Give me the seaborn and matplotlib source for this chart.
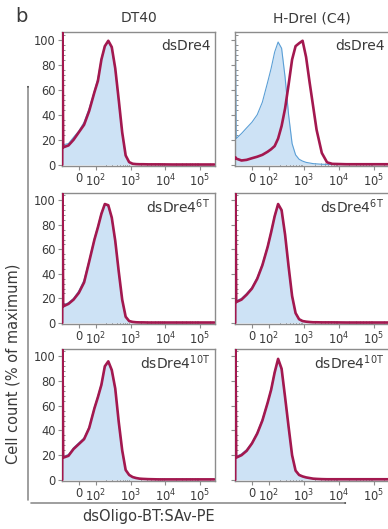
import numpy as np
import pandas as pd
import matplotlib
matplotlib.use("Agg")
import matplotlib.pyplot as plt
import seaborn as sns
from matplotlib.ticker import FixedLocator, FixedFormatter, NullFormatter

# ---------------- data ----------------
# fluorescence bin positions (dsOligo-BT:SAv-PE intensity)
x_bins = [-98, -96, -92, -61, -31, 0, 31, 61, 92, 115, 145, 182, 229, 288, 363,
          457, 575, 724, 912, 1148, 1445, 1820, 2291, 3236, 4571, 6457, 16218,
          51286, 257040]

cell_lines = ["DT40", "H-DreI (C4)"]
probes = ["dsDre4", "dsDre4$^{\\mathregular{6T}}$", "dsDre4$^{\\mathregular{10T}}$"]

# control (filled, blue) histograms, % of maximum
ctrl_dt40_dre4 = [0, 108, 16, 17, 22, 27, 34, 45, 59, 69, 85, 95, 98, 93, 76, 50, 25,
                  7, 2, 0.8, 0.5, 0.4, 0.4, 0.3, 0.3, 0.3, 0.2, 0.2, 0.2]
ctrl_hdrei_dre4 = [0, 100, 21, 25, 29.5, 34, 40, 50, 66, 77, 90, 98, 93, 70, 40, 17,
                   8, 4.5, 3, 2, 1.5, 1, 0.8, 0.5, 0.4, 0.3, 0.3, 0.3, 0.3]
ctrl_dt40_6t = [0, 108, 14.5, 16.5, 20, 26, 35, 51, 69, 79, 90, 97, 95, 85, 66, 41,
                18, 5, 1.5, 0.8, 0.5, 0.4, 0.4, 0.3, 0.3, 0.3, 0.3, 0.3, 0.3]
ctrl_hdrei_6t = [0, 108, 18, 20, 24, 29, 37, 48, 63, 75, 88, 97, 91, 71, 45, 21, 8,
                 3, 1.5, 1, 0.7, 0.5, 0.5, 0.4, 0.4, 0.4, 0.3, 0.3, 0.3]
ctrl_dt40_10t = [0, 108, 19, 20.5, 26, 30, 34, 43, 59, 68, 78, 92, 95, 88, 73, 46,
                 23, 8, 4, 2.3, 1.5, 1, 0.8, 0.6, 0.5, 0.4, 0.4, 0.4, 0.4]
ctrl_hdrei_10t = [0, 108, 19, 21, 24.5, 30, 38.5, 49, 63, 74, 88, 97, 89, 66, 42, 20,
                  7.5, 4, 2.8, 2, 1.5, 1, 0.8, 0.6, 0.5, 0.5, 0.5, 0.5, 0.5]

# stained (red line) histograms, % of maximum
oligo_dt40_dre4 = [0, 108, 14, 15.5, 20, 26, 32, 43, 58, 67, 84, 94.7, 99, 94, 77, 52,
                   26, 7.5, 2.2, 0.9, 0.6, 0.5, 0.5, 0.4, 0.4, 0.4, 0.3, 0.3, 0.3]
oligo_hdrei_dre4 = [5, 6, 5, 3.5, 4, 5.3, 6.5, 8, 10.5, 12.5, 15, 21, 31, 45, 64, 84,
                    94.7, 97, 99, 86, 66, 47, 28, 9.5, 2, 0.8, 0.5, 0.5, 0.5]
oligo_dt40_6t = [0, 108, 13.5, 15.5, 19, 24.5, 33, 50, 68, 78, 89, 97, 96, 86, 67, 42,
                 19, 5, 1.5, 0.8, 0.5, 0.4, 0.4, 0.3, 0.3, 0.3, 0.3, 0.3, 0.3]
oligo_hdrei_6t = [0, 108, 17, 19, 23, 28, 36, 47, 62, 74, 87, 97, 92, 72, 46, 22, 8,
                  3, 1.5, 1, 0.7, 0.5, 0.5, 0.4, 0.4, 0.4, 0.3, 0.3, 0.3]
oligo_dt40_10t = [0, 108, 18, 19.5, 25, 29, 33, 42, 58, 67, 77, 92, 96, 89, 74, 47,
                  24, 8, 4, 2.3, 1.5, 1, 0.8, 0.6, 0.5, 0.4, 0.4, 0.4, 0.4]
oligo_hdrei_10t = [0, 108, 18, 20, 23.5, 29.5, 37.5, 48, 62.5, 73, 87, 98, 90, 67, 43,
                   20, 7.5, 4, 2.8, 2, 1.5, 1, 0.8, 0.6, 0.5, 0.5, 0.5, 0.5, 0.5]

x_tick_values = [0, 100, 1000, 10000, 100000]
x_tick_labels = ["0", "$10^2$", "$10^3$", "$10^4$", "$10^5$"]
y_tick_values = [0, 20, 40, 60, 80, 100]

ctrl = [[ctrl_dt40_dre4, ctrl_hdrei_dre4],
        [ctrl_dt40_6t, ctrl_hdrei_6t],
        [ctrl_dt40_10t, ctrl_hdrei_10t]]
oligo = [[oligo_dt40_dre4, oligo_hdrei_dre4],
         [oligo_dt40_6t, oligo_hdrei_6t],
         [oligo_dt40_10t, oligo_hdrei_10t]]

# ---------------- styling ----------------
sns.set_theme(style="white")
plt.rcParams["font.family"] = ["DejaVu Sans"]
plt.rcParams["mathtext.fontset"] = "dejavusans"

RED = "#a3184f"
BLUE_LINE = "#5b9fd6"
BLUE_FILL = "#cde2f5"
SPINE = "#8c8c8c"
TXT = "#3a3a3a"

W, H = 388, 529
fig = plt.figure(figsize=(W / 100, H / 100), dpi=100)
fig.patch.set_facecolor("white")


def add_ax(left, top, right, bottom):
    return fig.add_axes([left / W, 1 - bottom / H, (right - left) / W, (bottom - top) / H])


cols = [(62, 215), (235, 389)]
rows = [(32, 165.5), (193, 323.5), (349, 480.5)]

minor_x = [m * 10 ** k for k in (2, 3, 4) for m in range(2, 10)] + [200000]
minor_y = [v for v in range(0, 105, 4) if v % 20 != 0]

for r, (top, bottom) in enumerate(rows):
    for c, (left, right) in enumerate(cols):
        ax = add_ax(left, top, right, bottom)
        df = pd.DataFrame({"x": x_bins, "ctrl": ctrl[r][c], "oligo": oligo[r][c]})
        ax.set_xscale("symlog", linthresh=100, linscale=0.44)
        ax.fill_between(df["x"], 0, df["ctrl"], color=BLUE_FILL, lw=0, zorder=1)
        sns.lineplot(data=df, x="x", y="ctrl", ax=ax, color=BLUE_LINE, lw=0.8,
                     estimator=None, sort=False, zorder=2)
        sns.lineplot(data=df, x="x", y="oligo", ax=ax, color=RED, lw=1.9,
                     estimator=None, sort=False, zorder=3)
        ax.set_xlim(-99, 270000)
        ax.set_ylim(-0.5, 106)
        ax.set_xlabel("")
        ax.set_ylabel("")
        for s in ax.spines.values():
            s.set_color(SPINE)
            s.set_linewidth(1.0)
        ax.xaxis.set_major_locator(FixedLocator(x_tick_values))
        ax.xaxis.set_major_formatter(FixedFormatter(x_tick_labels))
        ax.xaxis.set_minor_locator(FixedLocator(minor_x))
        ax.xaxis.set_minor_formatter(NullFormatter())
        ax.yaxis.set_major_locator(FixedLocator(y_tick_values))
        ax.yaxis.set_minor_locator(FixedLocator(minor_y))
        ax.yaxis.set_minor_formatter(NullFormatter())
        ax.tick_params(axis="both", which="major", direction="out", length=3,
                       width=0.8, color=SPINE, labelcolor=TXT, labelsize=8.3, pad=1.5)
        ax.tick_params(axis="both", which="minor", direction="in", length=2,
                       width=0.6, color="#777777")
        ax.tick_params(axis="x", which="major", pad=2)
        ax.tick_params(left=True, bottom=True, which="both")
        if c == 1:
            ax.tick_params(axis="y", labelleft=False)
        if ax.get_legend() is not None:
            ax.get_legend().remove()
        ax.text(0.97, 0.895, probes[r], transform=ax.transAxes, ha="right",
                va="center", fontsize=10, color=TXT)
        if r == 0:
            fig.text(((left + right) / 2) / W, 1 - 18 / H, cell_lines[c],
                     ha="center", va="center", fontsize=10, color=TXT)

# panel letter
fig.text(21 / W, 1 - 16 / H, "b", ha="center", va="center", fontsize=14, color=TXT)

# axis arrows (L-shaped)
arrow_kw = dict(arrowstyle="-|>,head_length=0.5,head_width=0.18", color="#555555", lw=0.8)
fig.add_artist(matplotlib.patches.FancyArrowPatch((28 / W, 1 - 503 / H), (28 / W, 1 - 82 / H),
                                                  transform=fig.transFigure, **arrow_kw))
fig.add_artist(matplotlib.patches.FancyArrowPatch((28 / W, 1 - 503 / H), (350 / W, 1 - 503 / H),
                                                  transform=fig.transFigure, **arrow_kw))

fig.text(13 / W, 1 - 364 / H, "Cell count (% of maximum)", rotation=90,
         ha="center", va="center", fontsize=10.5, color=TXT)
fig.text(149 / W, 1 - 517 / H, "dsOligo-BT:SAv-PE", ha="center", va="center",
         fontsize=10.5, color=TXT)

fig.savefig("out.png", dpi=100, facecolor="white")
